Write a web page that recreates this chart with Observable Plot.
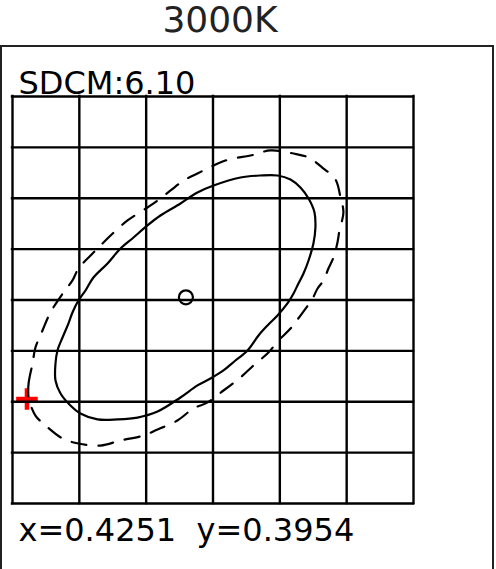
<!DOCTYPE html>
<html>
<head>
<meta charset="utf-8">
<script src="https://cdn.jsdelivr.net/npm/d3@7"></script>
<script src="https://cdn.jsdelivr.net/npm/@observablehq/plot@0.6"></script>
<style>
  html, body { margin: 0; padding: 0; background: #fff; }
  #wrap { position: relative; width: 496px; height: 569px; overflow: hidden; background: #fff; }
  #title { position: absolute; left: 0; top: 1.5px; width: 440px; text-align: center;
           font: 36px/36px "DejaVu Sans", sans-serif; color: #222; }
  #box { position: absolute; left: 0; top: 45px; width: 494px; height: 620px;
         border: 2px solid #222; box-sizing: border-box; }
  #chart { position: absolute; left: 0; top: 46px; }
  #chart svg text { white-space: pre; }
</style>
</head>
<body>
<div id="wrap">
  <div id="title"></div>
  <div id="box"></div>
  <div id="chart"></div>
</div>
<script>
// ---- data ----
const titleText = "3000K";
const sdcmLabel = "SDCM:6.10";
const measured = {x: 0.4251, y: 0.3954};
const centerPoint = {x: 0.4339, y: 0.4030};

// grid tick values (chromaticity x, y)
const xTicks = [0.4243, 0.4280, 0.4317, 0.4354, 0.4391, 0.4428, 0.4465];
const yTicks = [0.3876, 0.3914, 0.3952, 0.3990, 0.4028, 0.4066, 0.4104, 0.4142, 0.4180];

// measured (solid) contour
const solidX = [0.42668,0.42668,0.42679,0.42707,0.42740,0.42762,0.42795,0.42834,0.42878,0.42956,0.43028,0.43100,0.43177,0.43249,0.43360,0.43454,0.43543,0.43692,0.43803,0.43897,0.43969,0.44024,0.44069,0.44102,0.44107,0.44096,0.44069,0.44041,0.44013,0.43986,0.43952,0.43897,0.43842,0.43792,0.43731,0.43664,0.43598,0.43526,0.43454,0.43360,0.43233,0.43122,0.43011,0.42901,0.42806,0.42751,0.42696];
const solidY = [0.39679,0.39806,0.39903,0.40000,0.40105,0.40187,0.40276,0.40351,0.40448,0.40553,0.40665,0.40747,0.40837,0.40911,0.41001,0.41083,0.41135,0.41195,0.41210,0.41210,0.41180,0.41120,0.41038,0.40934,0.40822,0.40702,0.40575,0.40478,0.40403,0.40329,0.40254,0.40164,0.40090,0.40015,0.39903,0.39828,0.39754,0.39694,0.39642,0.39552,0.39447,0.39402,0.39388,0.39388,0.39432,0.39492,0.39582];

// reference (dashed) ellipse
const dashX = [0.42519,0.42519,0.42541,0.42557,0.42596,0.42640,0.42712,0.42762,0.42795,0.42862,0.42917,0.42973,0.43067,0.43177,0.43233,0.43305,0.43377,0.43454,0.43543,0.43626,0.43748,0.43858,0.43986,0.44069,0.44152,0.44218,0.44246,0.44262,0.44240,0.44229,0.44207,0.44179,0.44152,0.44119,0.44091,0.44024,0.43969,0.43903,0.43847,0.43764,0.43692,0.43598,0.43510,0.43432,0.43343,0.43233,0.43155,0.43028,0.42917,0.42795,0.42707,0.42613,0.42557];
const dashY = [0.39552,0.39656,0.39806,0.39925,0.40052,0.40187,0.40336,0.40426,0.40515,0.40612,0.40687,0.40762,0.40874,0.40971,0.41023,0.41098,0.41173,0.41225,0.41285,0.41329,0.41359,0.41397,0.41374,0.41344,0.41262,0.41180,0.41046,0.40934,0.40799,0.40710,0.40598,0.40515,0.40426,0.40366,0.40291,0.40164,0.40067,0.39978,0.39888,0.39791,0.39701,0.39604,0.39515,0.39470,0.39380,0.39313,0.39268,0.39231,0.39193,0.39208,0.39246,0.39343,0.39417];

// ---- build ----
const solid = solidX.map((x, i) => ({x, y: solidY[i]}));
const dashed = dashX.map((x, i) => ({x, y: dashY[i]}));

document.getElementById("title").textContent = titleText;

const chart = Plot.plot({
  width: 496,
  height: 523,
  marginLeft: 12,
  marginRight: 83,
  marginTop: 50,
  marginBottom: 66,
  x: {domain: [xTicks[0], xTicks[xTicks.length - 1]], axis: null},
  y: {domain: [yTicks[0], yTicks[yTicks.length - 1]], axis: null},
  style: {background: "transparent", fontFamily: "'DejaVu Sans', sans-serif"},
  marks: [
    Plot.dot([measured], {x: "x", y: "y", symbol: "plus", r: 7, stroke: "#ff0000", strokeWidth: 4.5}),
    Plot.ruleX(xTicks, {stroke: "#000", strokeWidth: 2.4, strokeLinecap: "square"}),
    Plot.ruleY(yTicks, {stroke: "#000", strokeWidth: 2.4, strokeLinecap: "square"}),
    Plot.line(dashed, {x: "x", y: "y", curve: "catmull-rom-closed", stroke: "#000", strokeWidth: 2.2, strokeDasharray: "15,12"}),
    Plot.line(solid, {x: "x", y: "y", curve: "catmull-rom-closed", stroke: "#000", strokeWidth: 2.2}),
    Plot.dot([centerPoint], {x: "x", y: "y", r: 7, stroke: "#000", strokeWidth: 2.2, fill: "none"}),
    Plot.text([sdcmLabel], {frameAnchor: "top-left", text: d => d, dx: 6, dy: -3, lineAnchor: "bottom", textAnchor: "start", fontSize: 32, fill: "#000"}),
    Plot.text([`x=${measured.x.toFixed(4)}  y=${measured.y.toFixed(4)}`], {frameAnchor: "bottom-left", text: d => d, dx: 6, dy: 37, lineAnchor: "bottom", textAnchor: "start", fontSize: 32, fill: "#000"})
  ]
});
document.getElementById("chart").appendChild(chart);
</script>
</body>
</html>
